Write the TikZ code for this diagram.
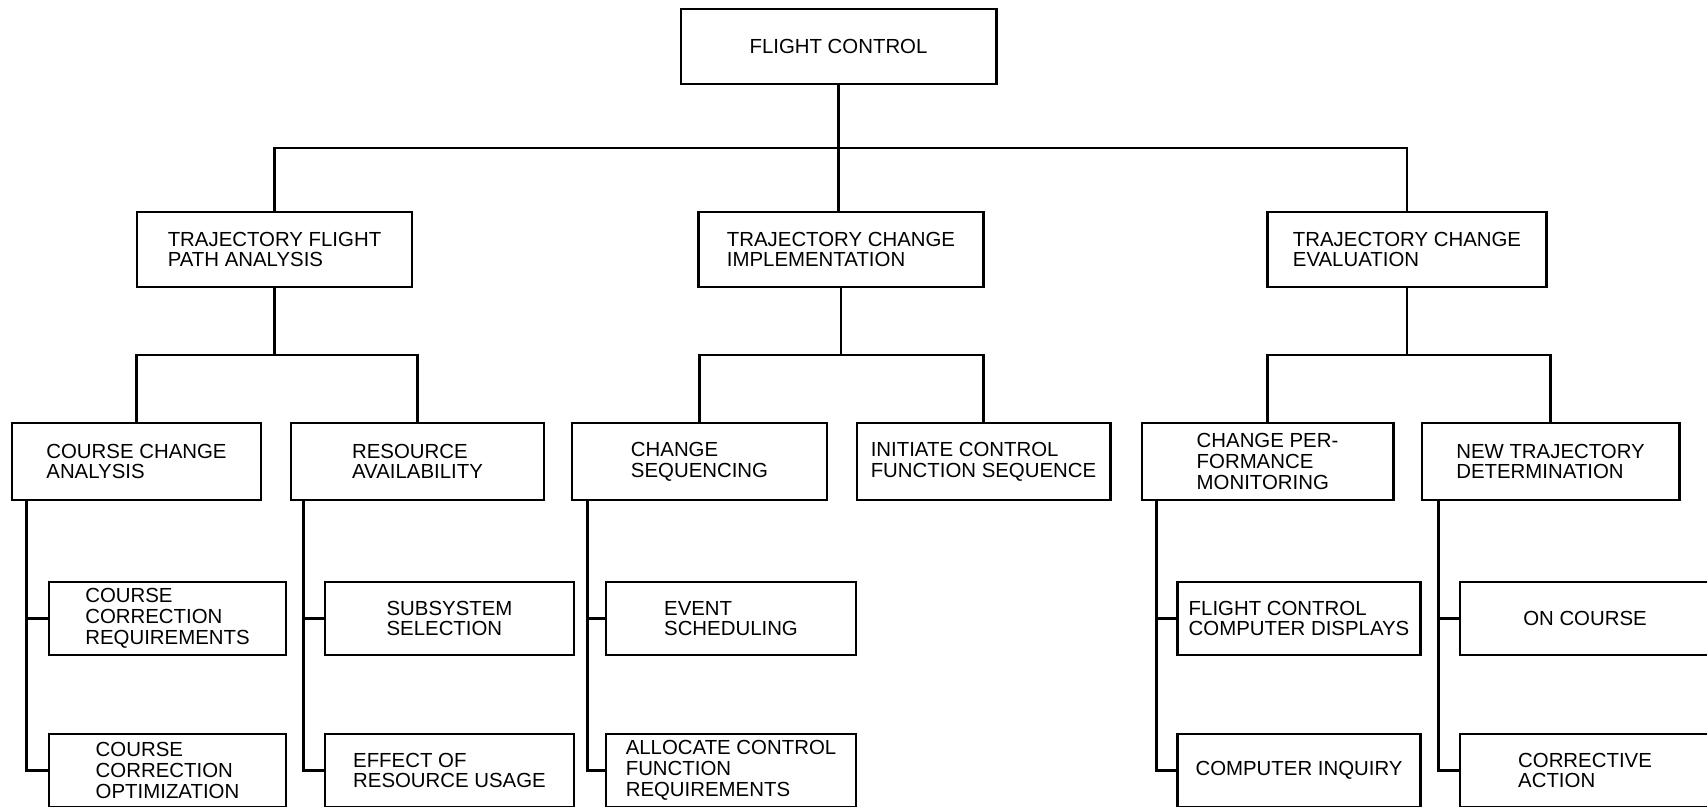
\documentclass[tikz,border=0pt]{standalone}
\usepackage{fontspec}
\setmainfont{Liberation Sans}
\usetikzlibrary{calc}
\colorlet{box edge}{black}
\tikzset{box/.style={draw=box edge, line width=0.8pt, align=left, inner sep=0pt,
      font=\fontsize{5.8}{5.9}\selectfont},
    head/.style={box, minimum height=0.75cm},
    group/.style={box, minimum height=0.77cm},
    task/.style={box, minimum height=0.73cm},
    link/.style={draw=box edge, line width=0.8pt}}

\begin{document}
\begin{tikzpicture}[x=0.01cm, y=-0.01cm]
    \path[use as bounding box, clip] (0,0) rectangle (1707,807);
    % top
    \node[head, minimum width=3.15cm] (fc) at (838.5,46.5) {FLIGHT CONTROL};
    % second row
    \node[head, minimum width=2.75cm] (tfpa) at (274.5,249.5) {TRAJECTORY FLIGHT\\PATH ANALYSIS};
    \node[head, minimum width=2.85cm] (tci)  at (841,249.5) {TRAJECTORY CHANGE\\IMPLEMENTATION};
    \node[head, minimum width=2.79cm] (tce)  at (1407,249.5) {TRAJECTORY CHANGE\\EVALUATION};
    % third row
    \node[group, minimum width=2.49cm] (cca)  at (136.5,461.5) {COURSE CHANGE\\ANALYSIS};
    \node[group, minimum width=2.53cm] (ra)   at (417.5,461.5) {RESOURCE\\AVAILABILITY};
    \node[group, minimum width=2.55cm] (cs)   at (699.5,461.5) {CHANGE\\SEQUENCING};
    \node[group, minimum width=2.53cm] (icfs) at (983.5,461.5) {INITIATE CONTROL\\FUNCTION SEQUENCE};
    \node[group, minimum width=2.51cm] (cpm)  at (1267.5,461.5) {CHANGE PER-\\FORMANCE\\MONITORING};
    \node[group, minimum width=2.57cm] (ntd)  at (1550.5,461.5) {NEW TRAJECTORY\\DETERMINATION};
    % fourth row
    \node[task, minimum width=2.37cm] (ccr)  at (167.5,618.5) {COURSE\\CORRECTION\\REQUIREMENTS};
    \node[task, minimum width=2.37cm] (cco)  at (167.5,770.5) {COURSE\\CORRECTION\\OPTIMIZATION};
    \node[task, minimum width=2.49cm] (ss)   at (449.5,618.5) {SUBSYSTEM\\SELECTION};
    \node[task, minimum width=2.49cm] (eru)  at (449.5,770.5) {EFFECT OF\\RESOURCE USAGE};
    \node[task, minimum width=2.50cm] (es)   at (731,618.5) {EVENT\\SCHEDULING};
    \node[task, minimum width=2.50cm] (acfr) at (731,770.5) {ALLOCATE CONTROL\\FUNCTION\\REQUIREMENTS};
    \node[task, minimum width=2.43cm] (fccd) at (1299,618.5) {FLIGHT CONTROL\\COMPUTER DISPLAYS};
    \node[task, minimum width=2.43cm] (ci)   at (1299,770.5) {COMPUTER INQUIRY};
    \node[task, minimum width=2.50cm] (oc)   at (1585,618.5) {ON COURSE};
    \node[task, minimum width=2.50cm] (ca)   at (1585,770.5) {CORRECTIVE\\ACTION};
    % buses
    \coordinate (bus) at ($(fc.south)!.5!(tci.north)$);
    \coordinate (busa) at ($(tfpa.south)!.5!(cca.north)$);
    \coordinate (busb) at ($(tci.south)!.5!(cs.north)$);
    \coordinate (busc) at ($(tce.south)!.5!(cpm.north)$);
    \draw[link] (fc.south) -- (fc.south |- tci.north);
    \draw[link] (tfpa.north) |- (bus) -| (tce.north);
    \draw[link] (tfpa.south) -- (tfpa.south |- busa);
    \draw[link] (cca.north) |- (busa) -| (ra.north);
    \draw[link] (tci.south) -- (tci.south |- busb);
    \draw[link] (cs.north) |- (busb) -| (icfs.north);
    \draw[link] (tce.south) -- (tce.south |- busc);
    \draw[link] (cpm.north) |- (busc) -| (ntd.north);
    % spines
    \draw[link] ([xshift=0.16cm]cca.south west) |- (ccr.west) ([xshift=0.16cm]cca.south west) |- (cco.west);
    \draw[link] ([xshift=0.14cm]ra.south west) |- (ss.west) ([xshift=0.14cm]ra.south west) |- (eru.west);
    \draw[link] ([xshift=0.17cm]cs.south west) |- (es.west) ([xshift=0.17cm]cs.south west) |- (acfr.west);
    \draw[link] ([xshift=0.16cm]cpm.south west) |- (fccd.west) ([xshift=0.16cm]cpm.south west) |- (ci.west);
    \draw[link] ([xshift=0.18cm]ntd.south west) |- (oc.west) ([xshift=0.18cm]ntd.south west) |- (ca.west);
\end{tikzpicture}
\end{document}
